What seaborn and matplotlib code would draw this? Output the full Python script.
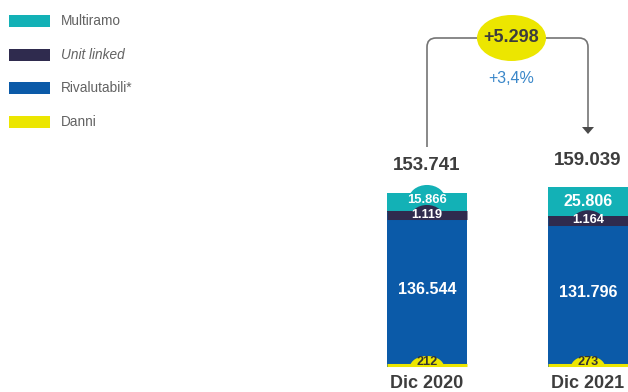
import numpy as np
import pandas as pd
import matplotlib
matplotlib.use("Agg")
import matplotlib.pyplot as plt
import matplotlib.transforms as mtransforms
import seaborn as sns
from matplotlib.patches import Ellipse, Rectangle, PathPatch, Polygon
from matplotlib.path import Path

# ---- data ----
periods = ["Dic 2020", "Dic 2021"]
series = ["Multiramo", "Unit linked", "Rivalutabili*", "Danni"]
multiramo = [15866, 25806]
unit_linked = [1119, 1164]
rivalutabili = [136544, 131796]
danni = [212, 273]
totals = [153741, 159039]
delta_label = "+5.298"
delta_pct_label = "+3,4%"

colors = {
    "Multiramo": "#13b1b6",
    "Unit linked": "#2f2b4e",
    "Rivalutabili*": "#0b5aa8",
    "Danni": "#ece600",
}


def fmt(v):
    return f"{v:,}".replace(",", ".")


sns.set_theme(style="white")
plt.rcParams["font.family"] = ["Liberation Sans", "DejaVu Sans"]

W, H = 628, 392
fig = plt.figure(figsize=(W / 100, H / 100), dpi=100)
ax = fig.add_axes([0, 0, 1, 1])

df = pd.DataFrame({
    "period": periods,
    "Danni": danni,
    "Rivalutabili*": rivalutabili,
    "Unit linked": unit_linked,
    "Multiramo": multiramo,
})
layers = ["Danni", "Rivalutabili*", "Unit linked", "Multiramo"]  # bottom -> top
cum = df[layers].cumsum(axis=1)
cum["period"] = df["period"]

# stacked bars: draw cumulative heights from the top layer down
for name in reversed(layers):
    sns.barplot(data=cum, x="period", y=name, color=colors[name], width=0.5,
                saturation=1, linewidth=0, ax=ax)

# scale / layout of the plotting area
base_px = 367          # baseline row
px_per_unit = 180 / max(totals)
ax.set_xlim(-427 / 161, (W - 427) / 161)
ax.set_ylim(-(H - base_px) / px_per_unit, base_px / px_per_unit)
ax.set_axis_off()

x = np.arange(len(periods))
ul_top = cum["Unit linked"].to_numpy()

# thin segments get a stroke hanging from their top edge so they stay legible
UL_LW = 6.5
DN_LW = 2.2
ul_shift = mtransforms.offset_copy(ax.transData, fig=fig, y=-UL_LW / 2, units="points")
ax.hlines(ul_top, x - 0.25, x + 0.25, colors=colors["Unit linked"], lw=UL_LW,
          capstyle="butt", zorder=5, transform=ul_shift)
dn_shift = mtransforms.offset_copy(ax.transData, fig=fig, y=DN_LW / 2, units="points")
ax.hlines(np.zeros(len(x)), x - 0.25, x + 0.25, colors=colors["Danni"],
          lw=DN_LW, capstyle="butt", zorder=5, transform=dn_shift)

# overlay in pixel coordinates for annotations
ov = fig.add_axes([0, 0, 1, 1], facecolor="none")
ov.set_xlim(0, W)
ov.set_ylim(H, 0)
ov.set_axis_off()


def to_px(xd, yd):
    dx, dy = ax.transData.transform((xd, yd))
    return dx, H - dy


def half_ellipse(cx, base, w, hh, color):
    """Upper half of an ellipse whose flat side sits on row `base`."""
    e = Ellipse((cx, base), w, 2 * hh, facecolor=color, edgecolor="none", zorder=8)
    ov.add_patch(e)
    e.set_clip_path(Rectangle((cx - w, base - 2 * hh), 2 * w, 2 * hh,
                              transform=ov.transData))


dark_text = "#3d3d3d"
ul_band_px = UL_LW * 100 / 72

seg_vals = {"Danni": danni, "Rivalutabili*": rivalutabili,
            "Unit linked": unit_linked, "Multiramo": multiramo}
for i in range(len(periods)):
    bottom = 0
    for name in layers:
        v = seg_vals[name][i]
        cx, mid = to_px(x[i], bottom + v / 2)
        _, top_px = to_px(x[i], bottom + v)
        _, bot_px = to_px(x[i], bottom)
        seg_px = v * px_per_unit
        if seg_px >= 25:
            ov.text(cx, mid, fmt(v), ha="center", va="center", fontsize=11.6,
                    fontweight="bold", color="white", zorder=10)
        elif name == "Multiramo":
            ty = mid - 2
            half_ellipse(cx, ty, 37, 15, colors[name])
            ov.text(cx, ty, fmt(v), ha="center", va="center", fontsize=9.4,
                    fontweight="bold", color="white", zorder=10)
        elif name == "Unit linked":
            band_bottom = top_px + ul_band_px
            half_ellipse(cx, band_bottom, 36, 15, colors[name])
            ov.text(cx, band_bottom - 5, fmt(v), ha="center", va="center",
                    fontsize=9.2, fontweight="bold", color="white", zorder=10)
        else:  # Danni
            half_ellipse(cx, bot_px, 34, 11, colors[name])
            ov.text(cx, bot_px - 5, fmt(v), ha="center", va="center",
                    fontsize=9.2, fontweight="bold", color="#333333", zorder=10)
        bottom += v

    # totals above bars and period labels below
    cx, top = to_px(x[i], totals[i])
    ov.text(cx, top - 27, fmt(totals[i]), ha="center", va="center",
            fontsize=13.5, fontweight="bold", color=dark_text)
    ov.text(cx, 384, periods[i], ha="center", va="center", fontsize=13,
            fontweight="bold", color=dark_text)

# bracket connector with arrow
x0, _ = to_px(x[0], 0)
x1, _ = to_px(x[1], 0)
yb, r = 38, 9
verts = [(x0, 147), (x0, yb + r), (x0, yb), (x0 + r, yb), (x1 - r, yb),
         (x1, yb), (x1, yb + r), (x1, 128)]
codes = [Path.MOVETO, Path.LINETO, Path.CURVE3, Path.CURVE3, Path.LINETO,
         Path.CURVE3, Path.CURVE3, Path.LINETO]
ov.add_patch(PathPatch(Path(verts, codes), facecolor="none", edgecolor="#747474",
                       lw=1.2, zorder=3))
ov.add_patch(Polygon([(x1 - 6, 127), (x1 + 6, 127), (x1, 134)], closed=True,
                     facecolor="#4a4a4a", edgecolor="none", zorder=3))

mx = (x0 + x1) / 2 + 4
ov.add_patch(Ellipse((mx, yb), 69, 46, facecolor="#ece600", edgecolor="none", zorder=4))
ov.text(mx, yb - 1, delta_label, ha="center", va="center", fontsize=13,
        fontweight="bold", color=dark_text, zorder=6)
ov.text(mx, 78, delta_pct_label, ha="center", va="center", fontsize=11.5,
        color="#3a87c9")

# legend
for j, name in enumerate(series):
    yc = [21, 55, 88, 122][j]
    ov.add_patch(Rectangle((9, yc - 6), 41, 12, facecolor=colors[name], edgecolor="none"))
    ov.text(61, yc, name, ha="left", va="center", fontsize=9.8, color="#626262",
            style="italic" if name == "Unit linked" else "normal")

fig.savefig("out.png", dpi=100)
